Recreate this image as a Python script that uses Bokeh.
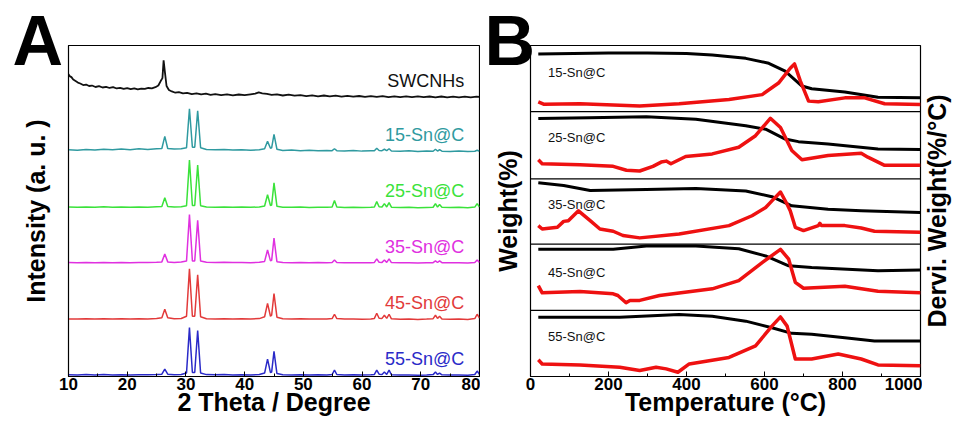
from bokeh.plotting import figure
from bokeh.models import Range1d, FixedTicker, Span, ColumnDataSource
from bokeh.layouts import row
from bokeh.embed import file_html
from bokeh.resources import INLINE
from bokeh.core.properties import value

FONT = "Liberation Sans"

# ---------------- Panel A : XRD ----------------
swcnh_points = [
    (10.0, 23), (10.2, 21), (10.5, 20), (10.8, 17.5), (11.2, 16), (11.6, 14.5), (12.0, 13.5),
    (12.5, 12), (13.0, 12.5), (13.5, 11), (14.0, 11.5), (14.6, 10), (15.2, 10.8), (15.8, 9.5),
    (16.4, 10.2), (17.0, 9), (17.6, 9.8), (18.2, 8.5), (18.8, 9.2), (19.4, 8), (20.0, 8.8),
    (20.6, 7.8), (21.2, 8.6), (21.8, 7.6), (22.4, 8.4), (23.0, 8), (23.6, 9), (24.2, 8.6),
    (24.8, 9.8), (25.3, 11.5), (25.7, 16), (26.0, 19), (26.2, 37), (26.4, 26), (26.7, 11),
    (27.1, 7), (27.6, 5.5), (28.2, 4.2), (28.8, 4.8), (29.5, 3.5), (30.2, 4), (31.0, 2.8),
    (31.8, 3.5), (32.6, 2.5), (33.4, 3.2), (34.2, 2), (35.0, 2.8), (36.0, 1.8), (37.0, 2.6),
    (38.0, 1.6), (39.0, 2.4), (40.0, 1.8), (41.0, 2.6), (41.8, 3.2), (42.4, 4.5), (43.0, 3.6),
    (43.8, 3), (44.6, 2), (45.5, 2.6), (46.5, 1.4), (47.5, 2.2), (48.5, 1.2), (49.5, 1.8),
    (50.5, 0.8), (51.5, 1.6), (52.5, 0.6), (53.5, 1.4), (54.5, 0.5), (55.5, 1.2), (56.5, 0.3),
    (57.5, 1), (58.5, 0.2), (59.5, 0.9), (60.5, 0.1), (61.5, 0.8), (62.5, 0), (63.5, 0.7),
    (64.5, -0.2), (65.5, 0.6), (66.5, -0.2), (67.5, 0.5), (68.5, -0.3), (69.5, 0.5), (70.5, -0.3),
    (71.5, 0.4), (72.5, -0.4), (73.5, 0.4), (74.5, -0.4), (75.5, 0.3), (76.5, -0.4), (77.5, 0.3),
    (78.5, -0.4), (79.5, 0.2), (80.0, 0),
]

sn_theta = [10, 11.5, 13, 14.5, 16, 17.5, 19, 20.5, 22, 23.5, 25, 25.9, 26.4, 26.9, 28, 29.2,
            30.1, 30.6, 31.1, 31.5, 32.0, 32.5, 33.5, 35, 36.5, 38, 39.5, 41, 42.5, 43.4, 43.9,
            44.4, 44.6, 45.0, 45.5, 46.5, 48, 49.5, 51, 52.5, 54, 54.9, 55.3, 55.7, 57, 58.5, 60,
            61.5, 62.1, 62.5, 62.9, 63.4, 63.8, 64.2, 64.6, 65.0, 66.5, 68, 69.5, 71, 72.1, 72.5,
            72.85, 73.2, 73.6, 75, 76.5, 78, 79.2, 79.6, 80]

sn15 = [1.5, 1.0, 1.8, 1.2, 2.0, 1.4, 2.2, 1.6, 2.4, 1.8, 2.5, 2.8, 15, 2.8, 2.2, 2.5,
        3.5, 43, 4, 4, 41, 3.5, 1.8, 1.4, 1.8, 1.2, 1.6, 1.0, 1.5, 2.5, 10,
        3, 3.5, 17, 2, 0.8, 1.2, 0.6, 1.0, 0.4, 0.8, 0.6, 2.5, 0.6, 0.2, 0.7, 0.1,
        0.5, 0.5, 3, 0.8, 0.6, 2, 0.6, 2.5, 0.3, 0, 0.4, -0.2, 0.3, 0, 2,
        0.2, 1.5, 0, -0.3, 0.2, -0.3, 0, 1, 0]
sn25 = [0.5, 0.2, 0.6, 0.3, 0.7, 0.3, 0.6, 0.2, 0.6, 0.4, 0.8, 1.0, 10, 1.0, 0.6, 0.9,
        1.8, 48, 2, 2, 43, 1.8, 0.6, 0.4, 0.6, 0.3, 0.5, 0.2, 0.6, 1.5, 13,
        2, 2.5, 25, 1.2, 0.4, 0.2, 0.5, 0.1, 0.4, 0.2, 0.5, 7, 0.5, 0.1, 0.3, 0,
        0.3, 0.6, 6, 0.8, 0.6, 4, 0.6, 5, 0.4, 0, 0.2, -0.2, 0.1, 0.3, 4,
        0.5, 3, 0.2, 0, 0.2, -0.2, 0.5, 4, 0.5]
sn35 = [0.4, 0.1, 0.5, 0.2, 0.5, 0.2, 0.5, 0.1, 0.5, 0.3, 0.7, 1.0, 9, 1.0, 0.5, 0.8,
        1.8, 49, 2, 2, 43, 1.8, 0.6, 0.4, 0.6, 0.3, 0.5, 0.2, 0.6, 1.5, 13,
        2, 2.5, 25, 1.2, 0.4, 0.2, 0.4, 0.1, 0.3, 0.2, 0.4, 3, 0.4, 0.1, 0.2, 0,
        0.2, 0.5, 4, 0.6, 0.5, 3, 0.5, 4, 0.3, 0, 0.2, -0.2, 0.1, 0.2, 2,
        0.4, 2, 0.2, 0, 0.2, -0.2, 0.4, 3, 0.5]
sn45 = [0.3, 0.1, 0.4, 0.2, 0.4, 0.1, 0.4, 0.1, 0.4, 0.2, 0.6, 1.5, 10, 1.5, 0.4, 0.7,
        3, 51, 3, 3, 45, 2.5, 0.5, 0.3, 0.5, 0.2, 0.4, 0.2, 0.6, 2.5, 16,
        3, 4, 26, 2, 0.4, 0.2, 0.4, 0.1, 0.3, 0.2, 0.6, 5, 0.6, 0.1, 0.2, 0,
        0.2, 0.8, 6, 1, 0.8, 4, 0.8, 5, 0.4, 0, 0.2, -0.2, 0.1, 0.5, 4,
        0.8, 3, 0.3, 0, 0.2, -0.2, 0.6, 5, 1]
sn55 = [0.3, 0.1, 0.4, 0.1, 0.4, 0.1, 0.3, 0.1, 0.3, 0.2, 0.4, 0.8, 6, 0.8, 0.3, 0.6,
        2, 48, 2.5, 2.5, 45, 2, 0.4, 0.2, 0.4, 0.1, 0.3, 0.1, 0.5, 2, 16,
        2.5, 3, 24, 1.5, 0.3, 0.1, 0.3, 0, 0.2, 0.1, 0.5, 5, 0.5, 0, 0.2, 0,
        0.2, 0.6, 5, 0.8, 0.6, 3, 0.6, 5, 0.3, 0, 0.1, -0.2, 0.1, 0.4, 3,
        0.6, 2, 0.2, 0, 0.1, -0.2, 0.5, 4, 0.8]

xrd_names = ["SWCNHs", "15-Sn@C", "25-Sn@C", "35-Sn@C", "45-Sn@C", "55-Sn@C"]
xrd_colors = ["#111111", "#2f9aa0", "#3ae23a", "#e030e0", "#e23a3a", "#2a2ac8"]
xrd_offsets = [283, 228, 171, 115, 58, 1.5]
xrd_label_y = [299, 244, 188, 131, 74, 18]

FIG_H = 418
BORDER_TOP = 45
BORDER_BOTTOM = 42

pA = figure(width=480, height=FIG_H, x_range=Range1d(10, 80), y_range=Range1d(0, 335),
            output_backend="svg", toolbar_location=None,
            min_border_left=68, min_border_right=1, min_border_top=BORDER_TOP,
            min_border_bottom=BORDER_BOTTOM)

swc_x = [pt[0] for pt in swcnh_points]
swc_y = [pt[1] + xrd_offsets[0] for pt in swcnh_points]
pA.line(swc_x, swc_y, line_color=xrd_colors[0], line_width=1.8)
for ser, col, off in zip([sn15, sn25, sn35, sn45, sn55], xrd_colors[1:], xrd_offsets[1:]):
    pA.line(sn_theta, [v + off for v in ser], line_color=col, line_width=1.5)

lab_src = ColumnDataSource(dict(x=[77.4] * 6, y=xrd_label_y, t=xrd_names, c=xrd_colors))
pA.text(x="x", y="y", text="t", text_color="c", source=lab_src, text_align="right",
        text_baseline="middle", text_font=value(FONT), text_font_size="18px")

# ---------------- Panel B : TGA ----------------
tga_names = ["15-Sn@C", "25-Sn@C", "35-Sn@C", "45-Sn@C", "55-Sn@C"]

w15_T = [20, 200, 300, 400, 466, 552, 611, 653, 696, 721, 806, 891, 1000]
w15 = [58.3, 59.3, 59.5, 59, 57.3, 54, 49, 41, 26, 23.3, 20, 14.7, 14]
d15_T = [20, 35, 127, 280, 381, 509, 594, 636, 666, 677, 692, 713, 738, 806, 857, 908, 1000]
d15 = [10, 7.5, 8, 5.7, 8, 12.3, 17.3, 29, 44, 48.3, 31, 10.7, 10, 14, 14, 8, 7.3]

w25_T = [20, 150, 297, 424, 552, 603, 653, 687, 763, 891, 1000]
w25 = [61, 62, 63, 60.3, 53.7, 50.3, 40.3, 37.7, 35.3, 30.3, 29.7]
d25_T = [20, 30, 127, 212, 246, 280, 314, 335, 348, 360, 398, 466, 534, 577, 615, 641, 670,
         696, 763, 848, 865, 908, 1000]
d25 = [19.3, 15.3, 14.3, 12.7, 8.7, 8, 12.7, 17, 18, 15.3, 22.7, 25.3, 32, 43.7, 61.3, 52,
       28.7, 19.3, 23.7, 26, 22, 13.7, 13.7]

w35_T = [20, 85, 153, 297, 424, 552, 619, 670, 763, 848, 1000]
w35 = [62, 59.3, 54.3, 55.3, 56.3, 53.7, 48, 38.7, 35.3, 33.7, 32]
d35_T = [20, 30, 69, 85, 97, 123, 153, 178, 212, 237, 280, 381, 509, 568, 603, 619, 641, 658,
         666, 679, 700, 738, 742, 746, 806, 848, 882, 1000]
d35 = [18.7, 15.3, 17, 23, 23.7, 33.7, 23.7, 15.3, 13, 8.7, 6.3, 10.3, 18.7, 28.7, 37, 43.7,
       52.7, 40.3, 33.7, 17, 13.7, 18.7, 21, 18.7, 18.7, 16.3, 13, 12]

w45_T = [20, 212, 297, 424, 534, 603, 662, 721, 891, 1000]
w45 = [61.7, 61.7, 65, 65, 62.3, 55, 45, 43.3, 40, 40.7]
d45_T = [20, 30, 127, 212, 224, 245, 255, 280, 331, 466, 534, 594, 641, 662, 679, 700, 806,
         891, 1000]
d45 = [25, 17.7, 19, 16.7, 15, 7.7, 10, 10, 15, 21.7, 30, 48.3, 61.7, 51.7, 28.3, 22.3, 24.3,
       19.3, 17.7]

w55_T = [20, 229, 381, 466, 552, 619, 670, 721, 806, 882, 1000]
w55 = [60, 60, 62.7, 61, 56, 49.3, 43.7, 42.7, 39.3, 36, 36]
d55_T = [20, 30, 127, 229, 280, 322, 348, 378, 407, 509, 577, 619, 641, 658, 679, 721, 789,
         848, 891, 1000]
d55 = [17, 12.7, 11.7, 9.3, 6, 9.3, 7.7, 4.3, 12.7, 19.3, 31, 51, 60.3, 51, 17.7, 17.7, 22.7,
       17.7, 11.7, 11]

tga_weight = [(w15_T, w15), (w25_T, w25), (w35_T, w35), (w45_T, w45), (w55_T, w55)]
tga_deriv = [(d15_T, d15), (d25_T, d25), (d35_T, d35), (d45_T, d45), (d55_T, d55)]
panel_bottoms = [268, 200, 134, 67, 0]
label_heights = [40, 42, 40, 38, 40]

pB = figure(width=442, height=FIG_H, x_range=Range1d(0, 1000), y_range=Range1d(0, 335),
            output_backend="svg", toolbar_location=None,
            min_border_left=50, min_border_right=2, min_border_top=BORDER_TOP,
            min_border_bottom=BORDER_BOTTOM)

for (wT, wv), (dT, dv), b in zip(tga_weight, tga_deriv, panel_bottoms):
    pB.line(wT, [v + b for v in wv], line_color="black", line_width=3, line_join="round")
    pB.line(dT, [v + b for v in dv], line_color="#ee1111", line_width=3.5, line_join="round")

for b in panel_bottoms[:-1]:
    pB.add_layout(Span(location=b, dimension="width", line_color="black", line_width=1.2))

tlab = ColumnDataSource(dict(x=[45] * 5, y=[b + h for b, h in zip(panel_bottoms, label_heights)],
                             t=tga_names))
pB.text(x="x", y="y", text="t", source=tlab, text_align="left", text_baseline="middle",
        text_font=value(FONT), text_font_size="13px", text_color="#111111")

# ---------------- styling ----------------
def style(p, xticks, xminor, xlabel, ylabel, panel_letter, letter_offset):
    p.xgrid.visible = False
    p.ygrid.visible = False
    p.outline_line_color = "black"
    p.outline_line_width = 1.2
    p.background_fill_color = "white"
    p.border_fill_color = "white"
    xa = p.xaxis[0]
    xa.ticker = FixedTicker(ticks=xticks, minor_ticks=xminor)
    xa.major_tick_in = 5
    xa.major_tick_out = 0
    xa.minor_tick_in = 3
    xa.minor_tick_out = 0
    xa.major_label_standoff = 1
    xa.major_label_text_font = FONT
    xa.major_label_text_font_style = "bold"
    xa.major_label_text_font_size = "17px"
    xa.major_label_text_color = "black"
    xa.axis_label = xlabel
    xa.axis_label_standoff = -5
    xa.axis_label_text_font = FONT
    xa.axis_label_text_font_style = "bold"
    xa.axis_label_text_font_size = "25px"
    xa.axis_label_text_color = "black"
    xa.axis_line_color = "black"
    ya = p.yaxis[0]
    ya.ticker = FixedTicker(ticks=[])
    ya.axis_label = ylabel
    ya.axis_label_text_font = FONT
    ya.axis_label_text_font_style = "bold"
    ya.axis_label_text_font_size = "25px"
    ya.axis_label_text_color = "black"
    ya.axis_line_color = "black"
    p.title.text = panel_letter
    p.title.align = "left"
    p.title.offset = letter_offset
    p.title.standoff = -68
    p.title.text_font = FONT
    p.title.text_font_style = "bold"
    p.title.text_font_size = "70px"
    p.title.text_color = "black"

style(pA, [10, 20, 30, 40, 50, 60, 70, 80], [15, 25, 35, 45, 55, 65, 75],
      "2 Theta / Degree", "Intensity (a. u. )", "A", -56)
style(pB, [0, 200, 400, 600, 800, 1000], [100, 300, 500, 700, 900],
      "Temperature (°C)", "Weight(%)", "B", -46)
pA.yaxis[0].axis_label_standoff = 19
pB.yaxis[0].axis_label_standoff = 9

# narrow companion figure that only carries the right-hand axis title of panel B
pC = figure(width=28, height=FIG_H, x_range=Range1d(0, 1), y_range=Range1d(0, 335),
            output_backend="svg", toolbar_location=None,
            min_border_left=27, min_border_right=0, min_border_top=BORDER_TOP,
            min_border_bottom=BORDER_BOTTOM)
pC.xaxis.visible = False
pC.xgrid.visible = False
pC.ygrid.visible = False
pC.outline_line_color = None
pC.background_fill_color = "white"
pC.border_fill_color = "white"
yc = pC.yaxis[0]
yc.ticker = FixedTicker(ticks=[])
yc.axis_line_color = None
yc.axis_label = "Dervi. Weight(%/°C)"
yc.axis_label_standoff = 0
yc.axis_label_text_font = FONT
yc.axis_label_text_font_style = "bold"
yc.axis_label_text_font_size = "25px"
yc.axis_label_text_color = "black"

layout = row(pA, pB, pC)
open("out.html", "w").write(file_html(layout, INLINE))
